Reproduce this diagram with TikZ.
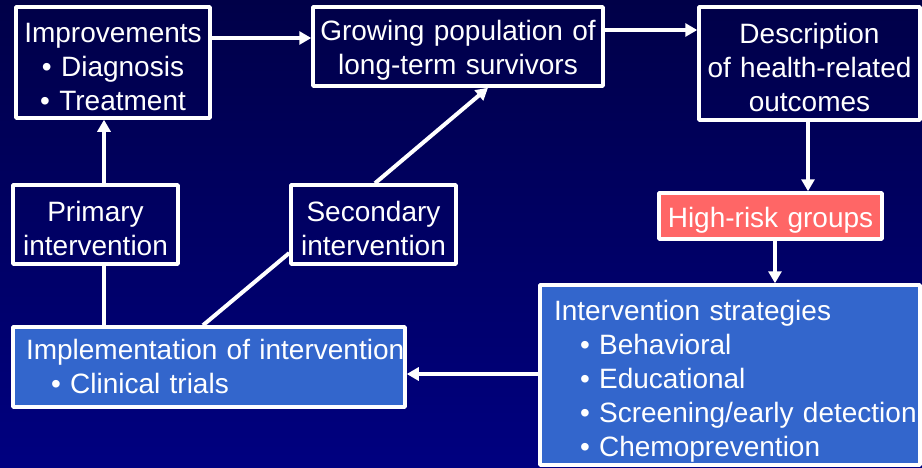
\documentclass[tikz,border=0pt]{standalone}
\usepackage{fontspec}
\setmainfont{Liberation Sans}
\usetikzlibrary{arrows.meta}
\definecolor{navytop}{RGB}{0,0,72}
\definecolor{navybot}{RGB}{0,0,128}
\definecolor{riskred}{RGB}{255,102,102}
\definecolor{planblue}{RGB}{51,102,204}
\begin{document}
\begin{tikzpicture}[x=1pt,y=-1pt,>={Triangle[length=12pt,width=13pt]},line join=round,font=\fontsize{28}{34}\selectfont]
	\tikzset{box/.style={draw=white,line width=3.5pt,text=white,inner sep=0pt,align=center,text height=28pt},
		link/.style={draw=white,line width=4pt}}
	\fill[top color=navytop,bottom color=navybot] (0,0) rectangle (922,467);
	\path
	(113,62.5) node[box,text width=186pt,minimum width=194pt,minimum height=111pt] (Imp) {Improvements\\• Diagnosis\\• Treatment}
	(458,46.5) node[box,text width=282pt,minimum width=290pt,minimum height=79pt] (Grow) {Growing population of\\long-term survivors}
	(809.5,63.5) node[box,text width=213pt,minimum width=221pt,minimum height=113pt] (Desc) {Description\\of health-related\\outcomes}
	(770.5,216) node[box,fill=riskred,text width=215pt,minimum width=223pt,minimum height=46pt] (Risk) {High-risk groups}
	(95.5,224.5) node[box,text width=157pt,minimum width=165pt,minimum height=79pt] (Prim) {Primary\\intervention}
	(373.5,224.5) node[box,text width=157pt,minimum width=165pt,minimum height=79pt] (Sec) {Secondary\\intervention}
	(209,367) node[box,fill=planblue,align=left,text height=20pt,text width=366pt,minimum width=392pt,minimum height=80pt] (Impl)
		{\mbox{Implementation of intervention}\\\hspace*{25pt}• Clinical trials}
	(730,375) node[box,fill=planblue,align=left,text height=32pt,text width=352pt,minimum width=380pt,minimum height=180pt] (Strat)
		{Intervention strategies\\\hspace*{26pt}• Behavioral\\\hspace*{26pt}• Educational\\\hspace*{26pt}\mbox{• Screening/early detection}\\\hspace*{26pt}• Chemoprevention}
	;
	\draw[link,->] (Imp.east |- 0,38) -- (Grow.west |- 0,38);
	\draw[link,->] (Grow.east |- 0,30) -- (Desc.west |- 0,30);
	\draw[link,->] (Desc.south -| 808,0) -- (Risk.north -| 808,0);
	\draw[link,->] (Risk.south -| 775,0) -- (Strat.north -| 775,0);
	\draw[link,->] (Strat.west |- 0,374) -- (Impl.east |- 0,374);
	\draw[link] (Impl.north -| 104,0) -- (Prim.south -| 104,0);
	\draw[link,->] (Prim.north -| 104,0) -- (Imp.south -| 104,0);
	\draw[link] (Impl.north -| 203,0) -- (Sec.west |- 0,253);
	\draw[link,->] (Sec.north -| 375,0) -- (Grow.south -| 488,0);
	\pgfresetboundingbox
	\path (0,0) rectangle (922,467);
\end{tikzpicture}
\end{document}
